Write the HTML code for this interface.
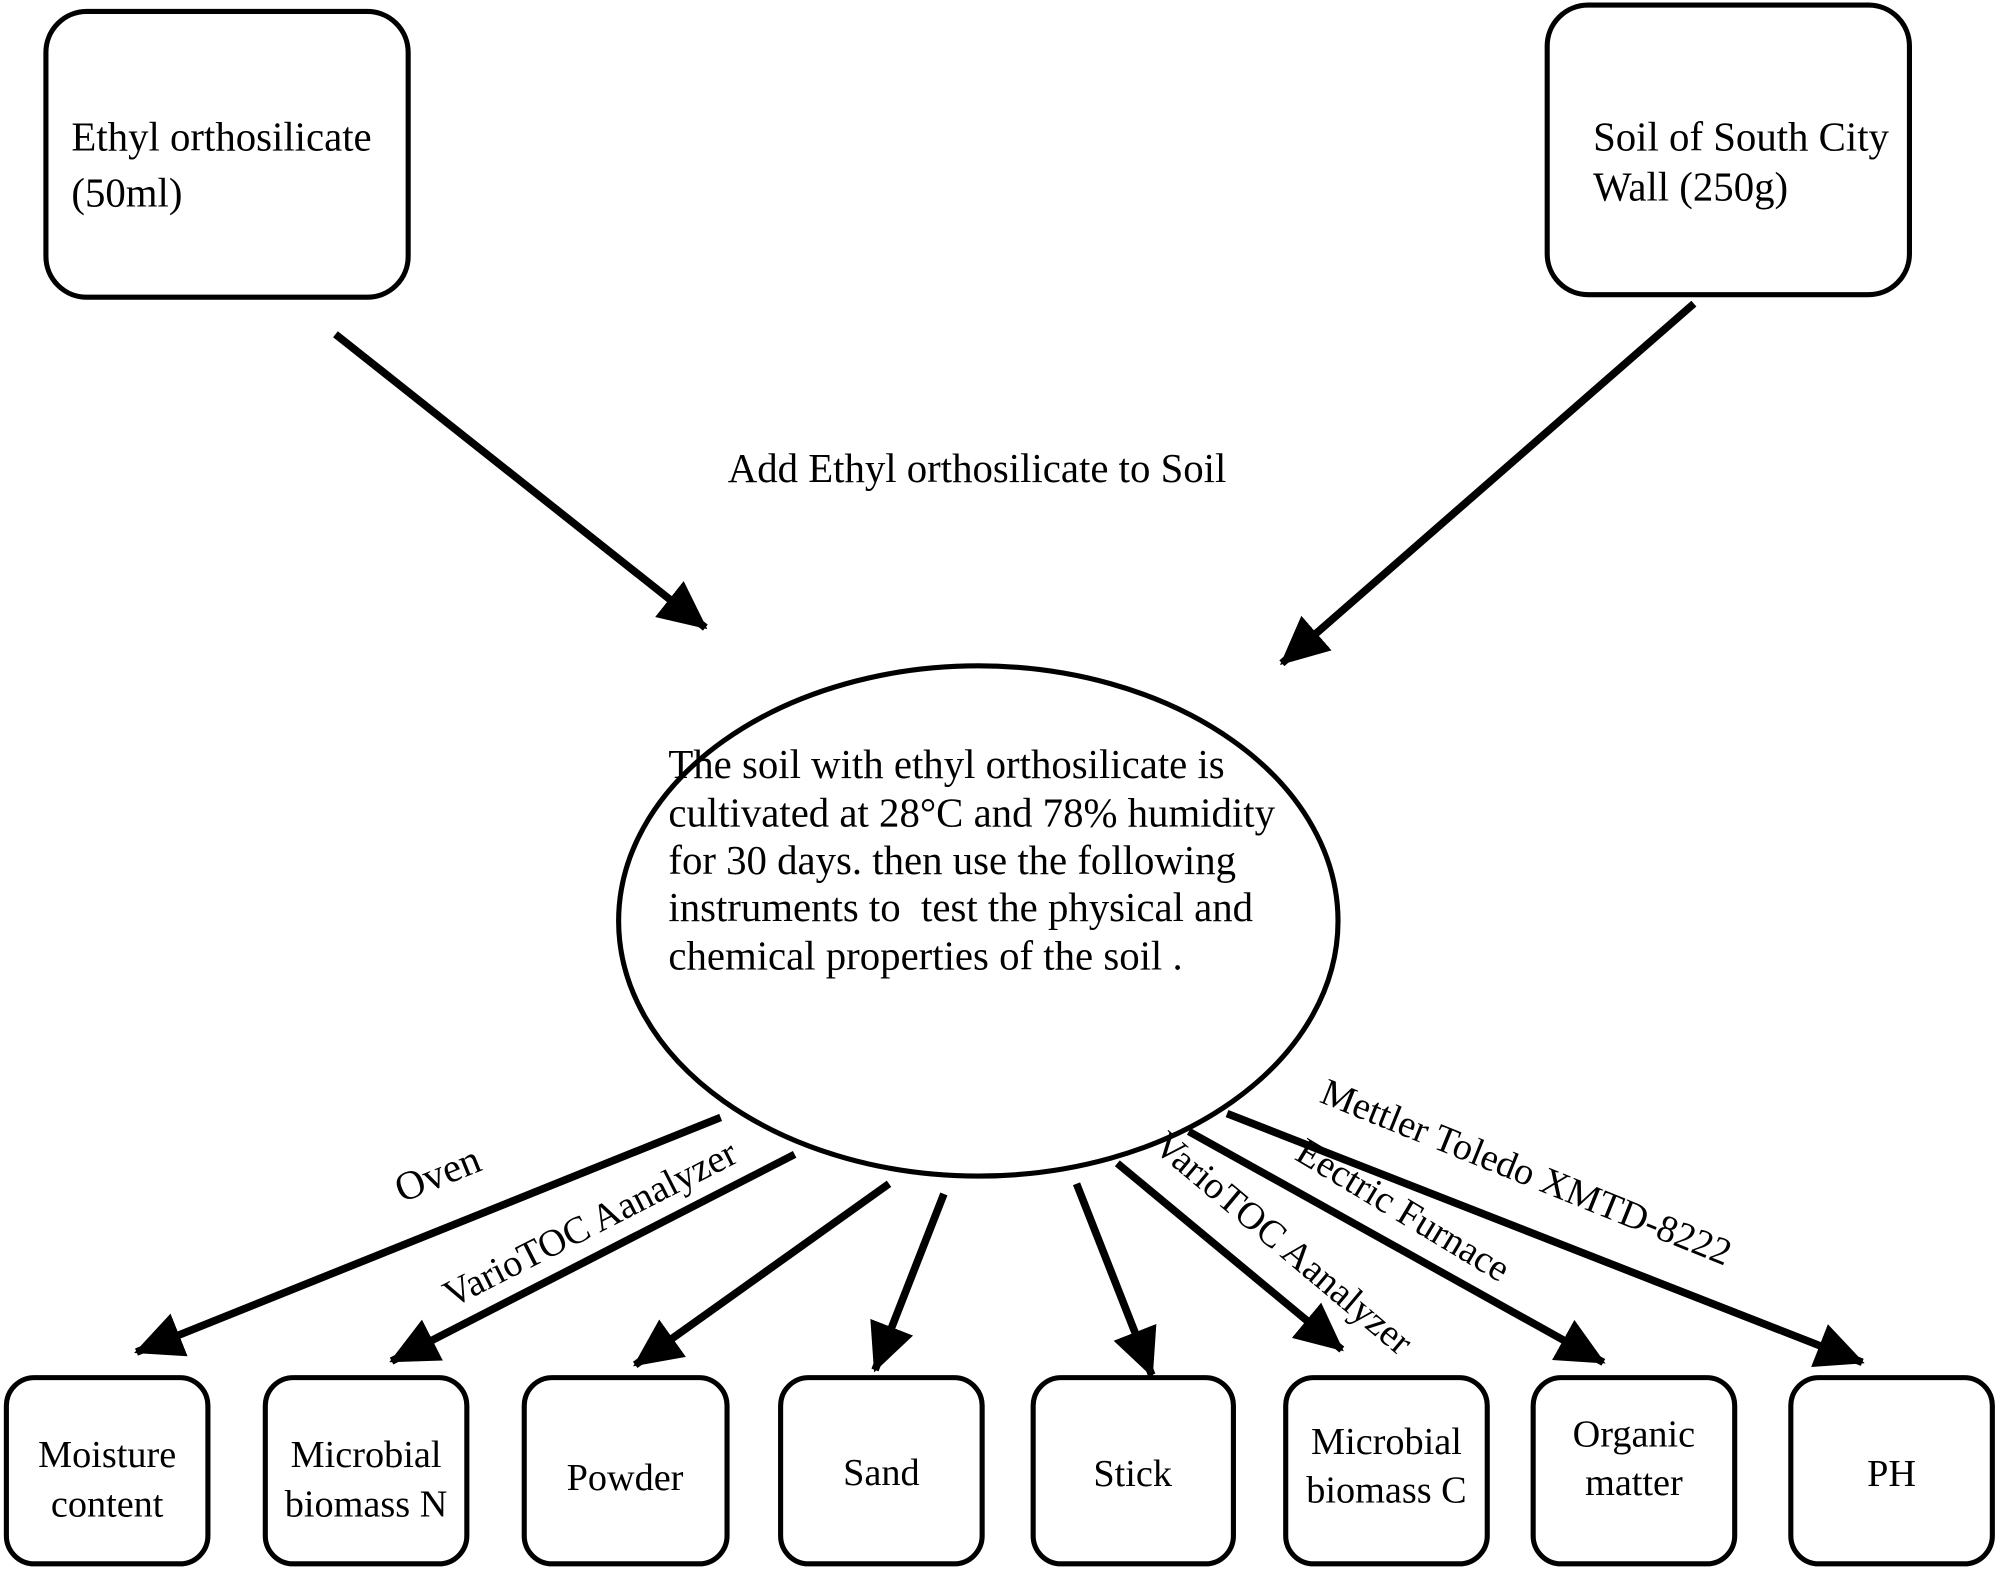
<!DOCTYPE html>
<html><head><meta charset="utf-8"><style>
html,body{margin:0;padding:0;background:#fff;}
svg{display:block;}
text{font-family:"Liberation Serif",serif;font-size:32px;fill:#000;}
.b{font-size:30px;}
</style></head><body>
<svg width="2000" height="1571" viewBox="0 0 1568 1231.6" preserveAspectRatio="none" xmlns="http://www.w3.org/2000/svg">
<defs>
<marker id="ah" markerUnits="userSpaceOnUse" markerWidth="40" markerHeight="40" refX="36" refY="18" orient="auto">
<path d="M0,0 L38,18 L0,36 Z" fill="#000"/>
</marker>
</defs>
<g fill="none" stroke="#000" stroke-width="4">
<rect x="36" y="9" width="284" height="224" rx="32"/>
<rect x="1213" y="4" width="284" height="227" rx="32"/>
<ellipse cx="767" cy="722" rx="282" ry="200"/>
<rect x="5" y="1080" width="158" height="146" rx="22"/>
<rect x="208" y="1080" width="158" height="146" rx="22"/>
<rect x="411" y="1080" width="159" height="146" rx="22"/>
<rect x="612" y="1080" width="158" height="146" rx="22"/>
<rect x="810" y="1080" width="157" height="146" rx="22"/>
<rect x="1008" y="1080" width="158" height="146" rx="22"/>
<rect x="1202" y="1080" width="158" height="146" rx="22"/>
<rect x="1404" y="1080" width="158" height="146" rx="22"/>
</g>
<g stroke="#000" stroke-width="6" marker-end="url(#ah)">
<line x1="263" y1="262" x2="553" y2="492"/>
<line x1="1328" y1="238" x2="1005" y2="520"/>
<line x1="565" y1="876" x2="107" y2="1060"/>
<line x1="623" y1="905" x2="307" y2="1067"/>
<line x1="697" y1="928" x2="498" y2="1070"/>
<line x1="740" y1="936" x2="686" y2="1074"/>
<line x1="844" y1="928" x2="903" y2="1078"/>
<line x1="876" y1="912" x2="1052" y2="1058"/>
<line x1="932" y1="887" x2="1257" y2="1068"/>
<line x1="962" y1="873" x2="1460" y2="1068"/>
</g>
<text x="56" y="118">Ethyl orthosilicate</text>
<text x="56" y="162">(50ml)</text>
<text x="1249" y="118">Soil of South City</text>
<text x="1249" y="157">Wall (250g)</text>
<text x="766" y="378" text-anchor="middle">Add Ethyl orthosilicate to Soil</text>
<text x="524" y="610">The soil with ethyl orthosilicate is</text>
<text x="524" y="648">cultivated at 28°C and 78% humidity</text>
<text x="524" y="685">for 30 days. then use the following</text>
<text x="524" y="722" xml:space="preserve">instruments to  test the physical and</text>
<text x="524" y="760">chemical properties of the soil .</text>
<text transform="translate(347,930) rotate(-22)" text-anchor="middle">Oven</text>
<text transform="translate(467,968) rotate(-27)" text-anchor="middle" style="font-size:30px">VarioTOC Aanalyzer</text>
<text transform="translate(1000,982) rotate(40)" text-anchor="middle" style="font-size:30px">VarioTOC Aanalyzer</text>
<text transform="translate(1095,957) rotate(31)" text-anchor="middle" style="font-size:30px">Eectric Furnace</text>
<text transform="translate(1193,928) rotate(22)" text-anchor="middle" style="font-size:30px">Mettler Toledo XMTD-8222</text>
<text class="b" x="84" y="1150" text-anchor="middle">Moisture</text>
<text class="b" x="84" y="1189" text-anchor="middle">content</text>
<text class="b" x="287" y="1150" text-anchor="middle">Microbial</text>
<text class="b" x="287" y="1189" text-anchor="middle">biomass N</text>
<text class="b" x="490" y="1168" text-anchor="middle">Powder</text>
<text class="b" x="691" y="1164" text-anchor="middle">Sand</text>
<text class="b" x="888" y="1165" text-anchor="middle">Stick</text>
<text class="b" x="1087" y="1140" text-anchor="middle">Microbial</text>
<text class="b" x="1087" y="1178" text-anchor="middle">biomass C</text>
<text class="b" x="1281" y="1134" text-anchor="middle">Organic</text>
<text class="b" x="1281" y="1172" text-anchor="middle">matter</text>
<text class="b" x="1483" y="1165" text-anchor="middle">PH</text>
</svg>
</body></html>
